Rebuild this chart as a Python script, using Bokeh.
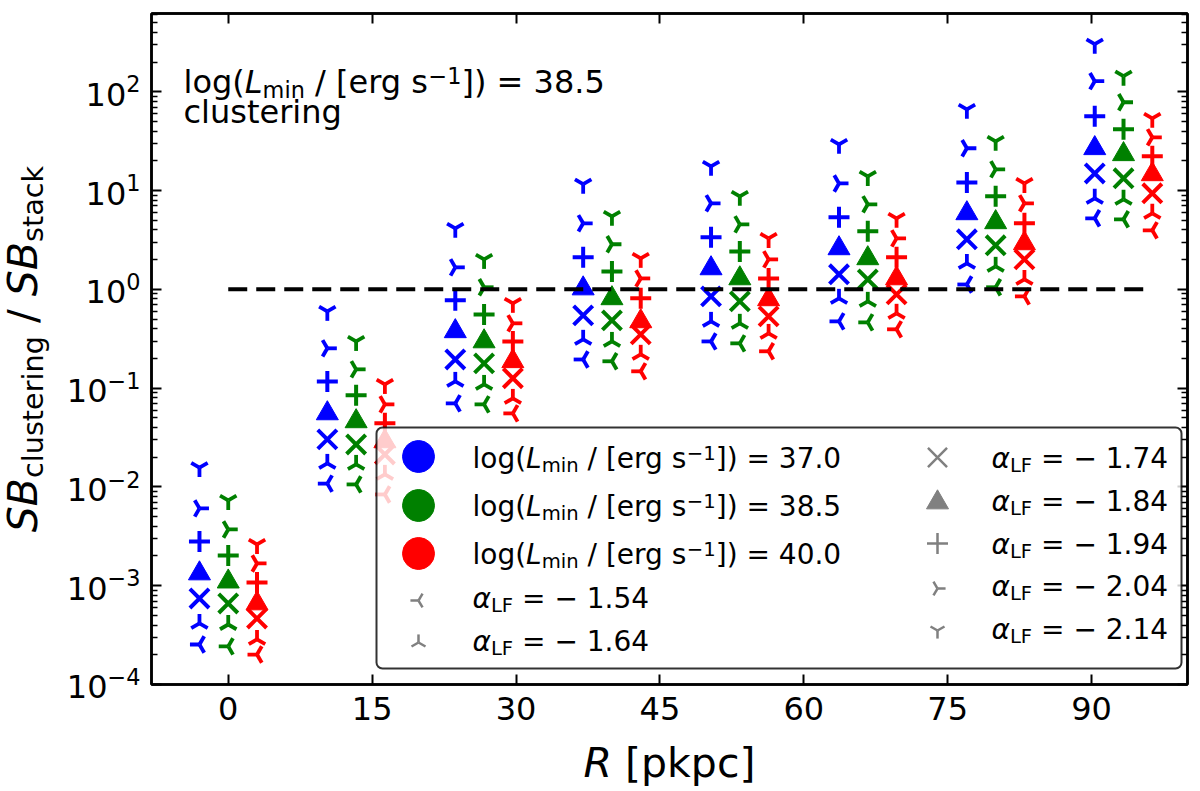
import numpy as np
from bokeh.plotting import figure
from bokeh.core.properties import value
from bokeh.models import (Range1d, LinearScale, LinearAxis, LogAxis, FixedTicker,
                          CustomJSTickFormatter, BoxAnnotation)
from bokeh.embed import file_html
from bokeh.resources import INLINE

# radial bins (pkpc) and model parameters
R_bins = [0, 13.33, 26.67, 40, 53.33, 66.67, 80, 93.33]
alphas = [-1.54, -1.64, -1.74, -1.84, -1.94, -2.04, -2.14]
lmin = [37.0, 38.5, 40.0]

# SB_clustering / SB_stack, one row per alpha (same order as alphas), one value per R bin
ratio_370 = [
    [2.54e-4, 1.08e-2, 7.01e-2, 0.195, 0.297, 0.474, 1.12, 5.24],
    [4.15e-4, 1.73e-2, 0.117, 0.312, 0.474, 0.811, 1.83, 8.35],
    [7.43e-4, 3.03e-2, 0.195, 0.545, 0.849, 1.42, 3.21, 14.9],
    [1.33e-3, 5.55e-2, 0.376, 1.02, 1.63, 2.60, 5.88, 26.8],
    [2.81e-3, 0.117, 0.774, 2.11, 3.36, 5.36, 12.1, 56.5],
    [6.06e-3, 0.253, 1.67, 4.66, 7.43, 11.8, 26.8, 128],
    [1.57e-2, 0.599, 4.15, 11.6, 17.6, 29.4, 66.5, 303],
]
ratio_385 = [
    [2.43e-4, 1.06e-2, 6.85e-2, 0.187, 0.284, 0.463, 1.05, 5.12],
    [4.05e-4, 1.69e-2, 0.109, 0.297, 0.453, 0.756, 1.71, 8.16],
    [6.61e-4, 2.69e-2, 0.178, 0.485, 0.756, 1.26, 2.79, 13.3],
    [1.10e-3, 4.61e-2, 0.297, 0.811, 1.29, 2.06, 4.77, 23.3],
    [2.02e-3, 8.45e-2, 0.558, 1.52, 2.42, 3.87, 8.74, 41.7],
    [3.71e-3, 0.155, 1.05, 2.86, 4.55, 7.26, 16.4, 78.3],
    [7.30e-3, 0.297, 2.01, 5.49, 8.74, 13.9, 31.5, 144],
]
ratio_400 = [
    [2.01e-4, 8.39e-3, 5.55e-2, 0.148, 0.236, 0.394, 0.849, 3.96],
    [2.86e-4, 1.34e-2, 7.87e-2, 0.220, 0.358, 0.572, 1.26, 5.88],
    [4.66e-4, 2.13e-2, 0.126, 0.350, 0.533, 0.890, 2.01, 9.38],
    [6.61e-4, 2.89e-2, 0.187, 0.474, 0.792, 1.29, 2.92, 14.6],
    [1.08e-3, 4.40e-2, 0.297, 0.811, 1.29, 2.11, 4.66, 22.2],
    [1.68e-3, 6.85e-2, 0.453, 1.29, 2.01, 3.28, 7.43, 34.6],
    [2.62e-3, 0.109, 0.722, 2.06, 3.28, 5.24, 11.8, 53.9],
]
ref_x = [0, 96.3]
ref_y = [1, 1]
x_ticks = [0, 15, 30, 45, 60, 75, 90]
y_exps = [-4, -3, -2, -1, 0, 1, 2]
y_ticks = [10.0 ** e for e in y_exps]

FONT = "DejaVu Sans"
colors = ["blue", "green", "red"]
dx = [-3, 0, 3]
series = [ratio_370, ratio_385, ratio_400]
kinds = ["tri_left", "tri_up", "x", "triangle", "cross", "tri_right", "tri_down"]
spokes = {"tri_left": [180, 60, -60], "tri_up": [90, -30, 210],
          "tri_right": [0, 120, 240], "tri_down": [-90, 30, 150]}

FW, FH = 1036, 671
p = figure(width=1192, height=791, x_range=Range1d(-8, 100), y_range=Range1d(1e-4, 620),
           y_axis_type="log", output_backend="svg", toolbar_location=None,
           min_border_left=151, min_border_right=5, min_border_top=13, min_border_bottom=107)
p.extra_x_ranges = {"px": Range1d(0, FW)}
p.extra_y_ranges = {"px": Range1d(0, FH)}
p.extra_x_scales = {"px": LinearScale()}
p.extra_y_scales = {"px": LinearScale()}
p.grid.visible = False
p.outline_line_color = "black"
p.outline_line_width = 2.5
p.background_fill_color = "white"
p.border_fill_color = "white"

minor = [k * 10.0 ** e for e in range(-4, 3) for k in range(2, 10)]
blank = CustomJSTickFormatter(code="return ''")


def style_axis(ax):
    ax.axis_line_width = 2.5
    ax.major_tick_in = 10
    ax.major_tick_out = 0
    ax.minor_tick_in = 6
    ax.minor_tick_out = 0
    ax.major_tick_line_width = 2
    ax.minor_tick_line_width = 1.5
    ax.major_label_text_font = FONT
    ax.major_label_text_color = "black"


xa = p.xaxis[0]
xa.ticker = FixedTicker(ticks=x_ticks, minor_ticks=[])
style_axis(xa)
xa.major_label_text_font_size = "32px"
xa.major_label_standoff = 12

# y tick labels are drawn below as "10" + raised exponent
ya = p.yaxis[0]
ya.ticker = FixedTicker(ticks=y_ticks, minor_ticks=minor)
ya.formatter = blank
style_axis(ya)
ya.major_label_text_font_size = "0px"

top = LinearAxis(ticker=FixedTicker(ticks=x_ticks, minor_ticks=[]), formatter=blank)
style_axis(top)
top.major_label_text_font_size = "0px"
top.major_label_standoff = 0
p.add_layout(top, "above")
right = LogAxis(ticker=FixedTicker(ticks=y_ticks, minor_ticks=minor), formatter=blank)
style_axis(right)
right.major_label_text_font_size = "0px"
right.major_label_standoff = 0
p.add_layout(right, "right")


def draw_marker(kind, xs, ys, color, lw, size, **kw):
    if kind in spokes:
        for a in spokes[kind]:
            p.ray(x=xs, y=ys, length=size, length_units="screen", angle=np.radians(a),
                  line_color=color, line_width=lw, **kw)
    elif kind == "triangle":
        p.scatter(x=xs, y=ys, marker="triangle", size=size, fill_color=color,
                  line_color=color, line_width=1, **kw)
    else:
        p.scatter(x=xs, y=ys, marker=kind, size=size, line_color=color,
                  line_width=lw, **kw)


SIZES = {"tri": 9.5, "x": 27, "triangle": 22, "cross": 21}

for ci, rows in enumerate(series):
    xs = [r + dx[ci] for r in R_bins]
    for ai, kind in enumerate(kinds):
        sz = SIZES.get(kind, SIZES["tri"])
        lw = 3.8 if kind in spokes else 4
        draw_marker(kind, xs, rows[ai], colors[ci], lw, sz)

p.line(ref_x, ref_y, line_color="black", line_width=4, line_dash="19 9")

# ---- text helpers: pixel coordinates relative to the frame (x right, y up) ----
W = {" ": .318, "(": .390, ")": .390, "/": .337, "[": .390, "]": .390, "=": .838,
     "\u2212": .838, ".": .318, "B": .686, "F": .575, "L": .557, "R": .695, "S": .635,
     "a": .613, "c": .550, "e": .615, "g": .635, "i": .278, "k": .579, "l": .278,
     "m": .974, "n": .634, "o": .612, "p": .635, "r": .411, "s": .521, "t": .392,
     "u": .634, "\u03b1": .659}
px = dict(x_range_name="px", y_range_name="px", level="overlay")
K = 0.33  # the text glyph sits a bit below its anchor; lift it back


def tw(s, size):
    return sum(W.get(c, .636) for c in s) * size


def put(x, y, txt, fs, italic=False, angle=0.0, **kw):
    p.text(x=x, y=y, text=[txt] * len(x), text_font=value(FONT),
           text_font_size=value(f"{fs:.1f}px"),
           text_font_style="italic" if italic else "normal",
           text_baseline="alphabetic", text_align="left",
           text_color="black", angle=angle, **kw)


def rich(parts, x0, y0, size, angle=0.0, center=False):
    total = sum(tw(t, size * sc) for t, sc, it, sh in parts)
    off = -total / 2 if center else 0
    for txt, sc, it, sh in parts:
        fs = size * sc
        lead = len(txt) - len(txt.lstrip(" "))
        off += tw(" " * lead, fs)
        core = txt.strip(" ")
        shp = sh * size + K * fs
        if angle == 0:
            lx, ly = x0 + off, y0 + shp
        else:
            lx, ly = x0 - shp, y0 + off
        put([lx], [ly], core, fs, it, angle, **px)
        off += tw(core, fs) + tw(" " * (len(txt.lstrip(" ")) - len(core)), fs)


# y tick labels: 10^e, right aligned 11 px left of the frame
TS = 32
for e, t in zip(y_exps, y_ticks):
    ex = str(e).replace("-", "\u2212")
    total = tw("10", TS) + tw(ex, TS * .7)
    x0 = -11 - total
    put([x0], [t], "10", TS, x_range_name="px", level="overlay",
        y_offset=13 - K * TS)
    put([x0 + tw("10", TS)], [t], ex, TS * .7, x_range_name="px", level="overlay",
        y_offset=13 - 0.42 * TS - K * TS * .7)


def lmin_parts(v):
    return [("log(", 1, False, 0), ("L", 1, True, 0), ("min", .7, False, -.15),
            (" / [erg s", 1, False, 0), ("\u22121", .7, False, .3),
            ("]) = " + f"{v:.1f}", 1, False, 0)]


def alpha_parts(a):
    return [("\u03b1", 1, True, 0), ("LF", .7, False, -.15),
            (" = \u2212 " + f"{abs(a):.2f}", 1, False, 0)]


# axis labels
rich([("SB", 1, True, 0), ("clustering", .7, False, -.15), (" / ", 1, False, 0),
      ("SB", 1, True, 0), ("stack", .7, False, -.15)], -115, FH / 2, 41,
     angle=np.pi / 2, center=True)
rich([("R", 1, True, 0), (" [pkpc]", 1, False, 0)], FW / 2, -92, 41, center=True)

# annotation top-left
rich(lmin_parts(lmin[1]), 32, 592, 32)
rich([("clustering", 1, False, 0)], 32, 562, 32)

# ---- legend ----
p.add_layout(BoxAnnotation(left=225, right=1030, top=257, bottom=16,
                           left_units="screen", right_units="screen",
                           top_units="screen", bottom_units="screen",
                           fill_color="white", fill_alpha=0.8, line_color="black",
                           line_alpha=0.8, line_width=2, border_radius=6))

left_mark_y = [228, 179, 131, 84, 42]
left_base_y = [217, 169, 121, 77, 34]
right_mark_y = [227, 182, 141, 96, 54]
right_base_y = [217, 174, 131, 89, 46]

for i, v in enumerate(lmin):
    p.scatter(x=[267], y=[left_mark_y[i]], marker="circle", size=32,
              fill_color=colors[i], line_color=colors[i], **px)
    rich(lmin_parts(v), 321, left_base_y[i], 28)

gray = "#808080"
for j, a in enumerate(alphas):
    kind = kinds[j]
    sz = SIZES.get(kind, SIZES["tri"]) * (0.85 if kind in spokes else 1)
    if j < 2:
        mx, my, tx, ty = 267, left_mark_y[3 + j], 321, left_base_y[3 + j]
    else:
        mx, my, tx, ty = 786, right_mark_y[j - 2], 840, right_base_y[j - 2]
    draw_marker(kind, [mx], [my], gray, 2.5, sz, **px)
    rich(alpha_parts(a), tx, ty, 28)

open("out.html", "w").write(file_html(p, INLINE))
